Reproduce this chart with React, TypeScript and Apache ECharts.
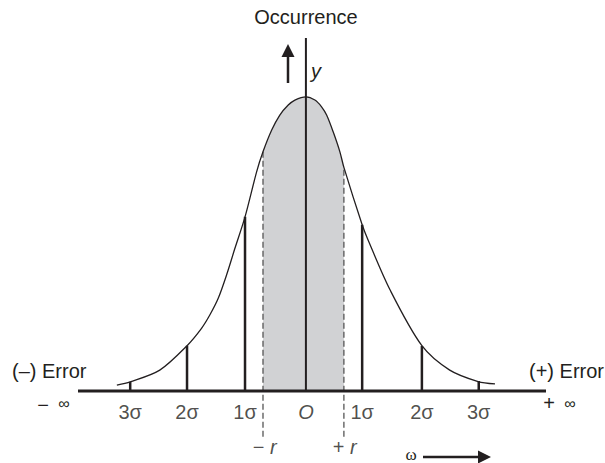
import React, { useEffect, useRef } from "react";
import * as echarts from "echarts";

// Curve: x in sigma units, y in % of peak height
const curveX = [-3.26, -3.03, -2.52, -2.05, -1.8, -1.655, -1.512, -1.367, -1.224, -1.05, -0.85, -0.74, -0.59, -0.45, -0.305, -0.19, 0, 0.155, 0.27, 0.357, 0.47, 0.586, 0.655, 0.97, 1.07, 1.45, 2.0, 2.48, 2.97, 3.26];
const curveY = [2.0, 3.1, 7.1, 15.4, 21.3, 25.9, 31.5, 39.5, 48.5, 59.2, 74.5, 81.3, 88.7, 93.8, 97.2, 98.9, 100, 98.9, 96.6, 93.8, 88.1, 81.3, 76.0, 56.5, 51.4, 34.4, 15.4, 7.1, 3.2, 2.4];

const sigmaX = [-3.03, -2.05, -1.05, 0.97, 2.0, 2.98];
const sigmaH = [3.1, 15.4, 59.2, 56.5, 15.3, 3.4];
const sigmaLabels = ["3σ", "2σ", "1σ", "1σ", "2σ", "3σ"];

const rX = [-0.74, 0.655];
const rH = [81.3, 76.0];
const rLabels = ["{n|− }{i|r}", "{n|+ }{i|r}"];
const rBottom = -15.6;
const rLabelX = [-0.71, 0.67];

const originLabel = "{i|O}";
const xMin = -3.93;
const xMax = 4.14;
const yMin = -20;
const yMax = 120;

const INK = "#231f20";
const FONT = "'Liberation Sans', Arial, Helvetica, sans-serif";

export default function App() {
  const ref = useRef<HTMLDivElement>(null);
  useEffect(() => {
    document.body.style.margin = "0";
    const chart = echarts.init(ref.current!, null, { renderer: "svg" });
    const curve = curveX.map((x, i) => [x, curveY[i]]);
    const shade = curve.filter((p) => p[0] >= rX[0] - 1e-9 && p[0] <= rX[1] + 1e-9);

    const series: any[] = [];
    series.push({
      type: "line",
      data: shade,
      smooth: 0.3,
      symbol: "none",
      lineStyle: { width: 0 },
      areaStyle: { color: "#d1d2d4", opacity: 1 },
      z: 1,
    });
    series.push({
      type: "line",
      data: curve,
      smooth: 0.3,
      symbol: "none",
      lineStyle: { width: 1.3, color: INK },
      z: 5,
    });
    rX.forEach((x, i) => {
      series.push({
        type: "line",
        data: [[x, rBottom], [x, rH[i]]],
        symbol: "none",
        lineStyle: { width: 1.3, color: "#555", type: [6, 3] },
        z: 3,
      });
    });
    sigmaX.forEach((x, i) => {
      series.push({
        type: "line",
        data: [[x, 0], [x, sigmaH[i]]],
        symbol: "none",
        lineStyle: { width: 2.5, color: INK },
        z: 4,
      });
    });
    // y axis (vertical) and x axis line
    series.push({
      type: "line",
      data: [[0, 0], [0, yMax]],
      symbol: "none",
      lineStyle: { width: 2, color: INK },
      z: 6,
    });
    series.push({
      type: "line",
      data: [[xMin, 0], [xMax, 0]],
      symbol: "none",
      lineStyle: { width: 3, color: INK },
      z: 6,
    });
    const rich = {
      n: { fontSize: 20, fontFamily: FONT, color: INK },
      i: { fontSize: 20, fontFamily: FONT, color: INK, fontStyle: "italic" },
    };
    series.push({
      type: "scatter",
      symbolSize: 0,
      clip: false,
      data: [
        ...sigmaX.map((x, i) => ({ value: [x, -7.1], name: sigmaLabels[i] })),
        { value: [0, -7.1], name: originLabel },
        ...rX.map((x, i) => ({ value: [rLabelX[i], -19], name: rLabels[i] })),
      ],
      label: {
        show: true,
        position: [0, 0],
        align: "center",
        verticalAlign: "middle",
        formatter: (p: any) => p.name,
        fontSize: 20,
        fontFamily: FONT,
        color: INK,
        rich,
      },
      z: 7,
    });

    const textStyle = (text: string, x: number, y: number, extra: any = {}) => ({
      type: "text",
      style: {
        text,
        x,
        y,
        fill: INK,
        fontSize: 20,
        fontFamily: FONT,
        align: "center",
        verticalAlign: "middle",
        ...extra,
      },
      z: 10,
    });

    chart.setOption({
      animation: false,
      grid: { left: 78, right: 59, top: 38, bottom: 13.2 },
      xAxis: { type: "value", min: xMin, max: xMax, show: false },
      yAxis: { type: "value", min: yMin, max: yMax, show: false },
      series,
      graphic: [
        textStyle("Occurrence", 306, 17),
        textStyle("y", 316, 71, { fontStyle: "italic" }),
        textStyle("(–) Error", 12, 371, { align: "left" }),
        textStyle("(+) Error", 604, 371, { align: "right" }),
        textStyle("−", 43, 405),
        textStyle("∞", 64, 403, { fontSize: 16 }),
        textStyle("+", 549, 403),
        textStyle("∞", 570, 403, { fontSize: 16 }),
        textStyle("ω", 411, 454, { fontSize: 17, fontFamily: "'Liberation Serif', serif" }),
        {
          type: "line",
          shape: { x1: 288, y1: 83, x2: 288, y2: 56 },
          style: { stroke: INK, lineWidth: 2.5 },
        },
        {
          type: "polygon",
          shape: { points: [[288, 44], [281.5, 57], [294.5, 57]] },
          style: { fill: INK },
        },
        {
          type: "line",
          shape: { x1: 423, y1: 457, x2: 480, y2: 457 },
          style: { stroke: INK, lineWidth: 2.5 },
        },
        {
          type: "polygon",
          shape: { points: [[491, 457], [478, 450.5], [478, 463.5]] },
          style: { fill: INK },
        },
      ],
    });
    return () => chart.dispose();
  }, []);
  return <div ref={ref} style={{ width: 605, height: 463 }} />;
}
